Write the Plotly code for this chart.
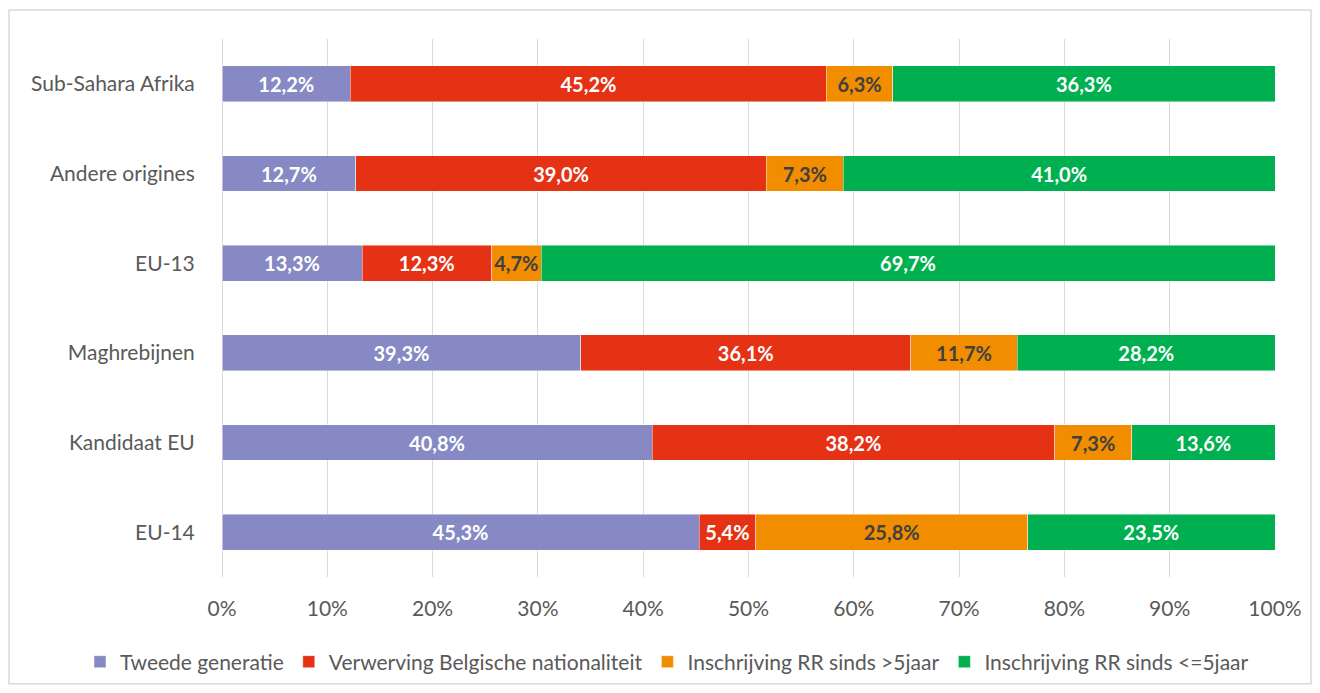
import plotly.graph_objects as go

categories = ["Sub-Sahara Afrika", "Andere origines", "EU-13", "Maghrebijnen", "Kandidaat EU", "EU-14"]
series_names = ["Tweede generatie", "Verwerving Belgische nationaliteit",
                "Inschrijving RR sinds >5jaar", "Inschrijving RR sinds <=5jaar"]
tweede_generatie = [12.2, 12.7, 13.3, 39.3, 40.8, 45.3]
verwerving_nationaliteit = [45.2, 39.0, 12.3, 36.1, 38.2, 5.4]
rr_meer_5jaar = [6.3, 7.3, 4.7, 11.7, 7.3, 25.8]
rr_max_5jaar = [36.3, 41.0, 69.7, 28.2, 13.6, 23.5]
tick_vals = [0, 10, 20, 30, 40, 50, 60, 70, 80, 90, 100]
tick_text = [f"{v}%" for v in tick_vals]

values = [tweede_generatie, verwerving_nationaliteit, rr_meer_5jaar, rr_max_5jaar]
colors = ["#8689C4", "#E53215", "#F28D00", "#00B050"]
text_colors = ["#FFFFFF", "#FFFFFF", "#404040", "#FFFFFF"]

FONT = "Lato"
FS = 21

fig = go.Figure()
for name, vals, col, tcol in zip(series_names, values, colors, text_colors):
    fig.add_trace(go.Bar(
        y=categories, x=vals, name=name, orientation="h",
        marker=dict(color=col, line=dict(color="rgba(255,255,255,0.6)", width=0.75)),
        text=[f"{v:.1f}%".replace(".", ",") for v in vals],
        textposition="inside", insidetextanchor="middle", textangle=0,
        constraintext="none",
        insidetextfont=dict(family=FONT, size=20, color=tcol, weight="bold"),
        width=0.4,
    ))

fig.update_layout(
    barmode="stack", barnorm="percent",
    width=1320, height=693,
    margin=dict(l=222, r=45, t=39, b=115),
    paper_bgcolor="white", plot_bgcolor="white",
    font=dict(family=FONT, size=FS, color="#595959"),
    showlegend=True,
    legend=dict(orientation="h", xref="paper", yref="paper",
                x=(80 - 222) / 1053, xanchor="left",
                y=(578 - 662) / 539, yanchor="middle",
                font=dict(family=FONT, size=FS, color="#595959"),
                traceorder="normal", itemwidth=30, tracegroupgap=0),
    xaxis=dict(range=[0, 100], tickmode="array", tickvals=tick_vals, ticktext=tick_text,
               showgrid=True, gridcolor="#D9D9D9", gridwidth=1,
               zeroline=True, zerolinecolor="#D9D9D9", zerolinewidth=1,
               showline=False, ticks="outside", ticklen=13, tickcolor="rgba(0,0,0,0)",
               tickfont=dict(family=FONT, size=FS, color="#595959"), fixedrange=True),
    yaxis=dict(categoryorder="array", categoryarray=categories, autorange="reversed",
               showgrid=False, showline=False, ticks="outside", ticklen=22,
               tickcolor="rgba(0,0,0,0)",
               tickfont=dict(family=FONT, size=FS, color="#595959")),
    shapes=[dict(type="rect", xref="paper", yref="paper",
                 x0=(9 - 222) / 1053, x1=(1311 - 222) / 1053,
                 y0=(578 - 685) / 539, y1=(578 - 10) / 539,
                 line=dict(color="#D9D9D9", width=1.5), fillcolor="rgba(0,0,0,0)",
                 layer="below")],
)

fig.write_html("out.html", config={"displayModeBar": False},
               post_script="document.body.style.margin='0';document.body.style.overflow='hidden';")
